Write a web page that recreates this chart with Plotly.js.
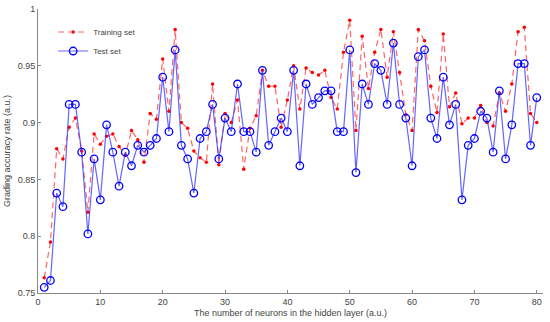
<!DOCTYPE html>
<html><head><meta charset="utf-8">
<script src="https://cdn.plot.ly/plotly-3.0.1.min.js"></script>
<style>html,body{margin:0;padding:0;background:#fff}#chart{width:550px;height:322px}</style>
</head><body><div id="chart"></div>
<script>
const neurons = Array.from({length: 80}, (_, i) => i + 1);
const trainingSet = [0.7635,0.795,0.877,0.868,0.896,0.904,0.875,0.821,0.890,0.881,
0.888,0.890,0.879,0.871,0.893,0.885,0.865,0.908,0.903,0.956,
0.910,0.982,0.900,0.895,0.875,0.869,0.865,0.934,0.863,0.908,
0.900,0.920,0.859,0.895,0.906,0.946,0.932,0.932,0.896,0.920,
0.950,0.912,0.948,0.944,0.942,0.946,0.922,0.912,0.962,0.990,
0.893,0.976,0.930,0.962,0.982,0.940,0.980,0.944,0.907,0.893,
0.982,0.972,0.932,0.909,0.978,0.914,0.926,0.899,0.904,0.904,
0.915,0.900,0.897,0.926,0.910,0.934,0.980,0.984,0.908,0.900];
const testSet = [0.755,0.761,0.838,0.826,0.916,0.916,0.874,0.802,0.868,0.832,
0.898,0.874,0.844,0.874,0.862,0.880,0.874,0.880,0.886,0.940,
0.892,0.964,0.880,0.868,0.838,0.886,0.892,0.916,0.868,0.904,
0.892,0.934,0.892,0.892,0.874,0.946,0.880,0.892,0.904,0.892,
0.946,0.862,0.934,0.916,0.922,0.928,0.928,0.892,0.892,0.964,
0.856,0.934,0.916,0.952,0.946,0.916,0.970,0.916,0.904,0.862,
0.958,0.964,0.904,0.886,0.940,0.898,0.916,0.832,0.880,0.886,
0.910,0.904,0.874,0.928,0.868,0.898,0.952,0.952,0.880,0.922];
const yTicks = [0.75,0.8,0.85,0.9,0.95,1];
const yTickText = ['0.75','0.8','0.85','0.9','0.95','1'];
const xTicks = [0,10,20,30,40,50,60,70,80];

const fam = '"Liberation Sans", Arial, sans-serif';
const font = {family: fam, size: 9, color: '#444'};
const traces = [
  {x: neurons, y: trainingSet, name: 'Training set', type: 'scatter', mode: 'lines+markers',
   line: {color: 'rgba(255,50,50,0.75)', width: 1.2, dash: '6px,4px'},
   marker: {color: '#ff0000', size: 3.5, symbol: 'circle'}},
  {x: neurons, y: testSet, name: 'Test set', type: 'scatter', mode: 'lines+markers',
   line: {color: 'rgba(50,50,255,0.75)', width: 1.2},
   marker: {color: '#0000ff', size: 7.5, symbol: 'circle-open', line: {color: '#0000ff', width: 1.3}}}
];
const layout = {
  width: 550, height: 322,
  margin: {l: 38, r: 7, t: 9, b: 29, pad: 0},
  paper_bgcolor: '#fff', plot_bgcolor: '#fff',
  font: font,
  showlegend: true,
  legend: {x: 0.03, y: 0.97, xanchor: 'left', yanchor: 'top', bgcolor: 'rgba(0,0,0,0)',
    font: {family: fam, size: 8, color: '#444'}, tracegroupgap: 0, itemwidth: 30},
  xaxis: {range: [0, 81], tickvals: xTicks, ticks: 'inside', ticklen: 3, tickcolor: '#888',
    showline: true, linecolor: '#888', linewidth: 1, showgrid: false, zeroline: false,
    tickfont: font, mirror: false,
    title: {text: 'The number of neurons in the hidden layer (a.u.)', font: {family: fam, size: 9, color: '#444'}, standoff: 3}},
  yaxis: {range: [0.75, 1], tickvals: yTicks, ticktext: yTickText, ticks: 'inside', ticklen: 3, tickcolor: '#888',
    showline: true, linecolor: '#888', linewidth: 1, showgrid: false, zeroline: false,
    tickfont: font,
    title: {text: 'Grading accuracy rate (a.u.)', font: {family: fam, size: 9, color: '#444'}, standoff: 5}}
};
Plotly.newPlot('chart', traces, layout, {displayModeBar: false, staticPlot: true});
</script></body></html>
